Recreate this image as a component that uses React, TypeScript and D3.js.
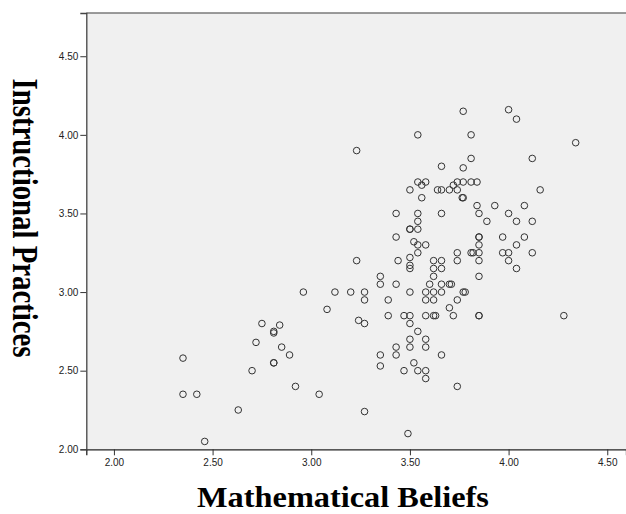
import React, {useEffect, useRef} from 'react';
import * as d3 from 'd3';

// Mathematical Beliefs (x) vs Instructional Practices (y)
const beliefs: number[] = [
  2.35, 2.35, 2.42, 2.46, 2.63, 2.70, 2.72, 2.75, 2.81, 2.81, 2.84, 2.85, 2.81, 2.81, 2.89, 2.92, 2.96, 3.04,
  3.08, 3.12, 3.20, 3.27, 3.27, 3.24, 3.27, 3.23, 3.23, 3.27,
  3.35, 3.35, 3.35, 3.35, 3.39, 3.39,
  3.43, 3.43, 3.43, 3.43, 3.43, 3.44, 3.47, 3.47, 3.49,
  3.50, 3.50, 3.50, 3.50, 3.50, 3.50, 3.50, 3.50, 3.50, 3.50, 3.50,
  3.52, 3.52,
  3.54, 3.54, 3.54, 3.54, 3.54, 3.54, 3.54, 3.54, 3.54,
  3.56, 3.56, 3.58,
  3.58, 3.58, 3.58, 3.58, 3.58, 3.58, 3.58, 3.58,
  3.62, 3.62, 3.62, 3.62, 3.62, 3.62, 3.63, 3.60,
  3.64,
  3.66, 3.66, 3.66, 3.66, 3.66, 3.66, 3.66, 3.66,
  3.70, 3.70, 3.71, 3.70,
  3.72, 3.72,
  3.74, 3.74, 3.74, 3.74, 3.74, 3.74,
  3.77, 3.77, 3.77, 3.77, 3.765, 3.77, 3.78,
  3.81, 3.81, 3.81, 3.81, 3.82,
  3.84, 3.84,
  3.85, 3.85, 3.85, 3.85, 3.85, 3.85, 3.85, 3.85, 3.85,
  3.89, 3.93, 3.97, 3.97,
  4.00, 4.00, 4.00, 4.00,
  4.04, 4.04, 4.04, 4.04,
  4.08, 4.08,
  4.12, 4.12, 4.12,
  4.16, 4.28, 4.34,
];

const practices: number[] = [
  2.58, 2.35, 2.35, 2.05, 2.25, 2.50, 2.68, 2.80, 2.75, 2.74, 2.79, 2.65, 2.55, 2.55, 2.60, 2.40, 3.00, 2.35,
  2.89, 3.00, 3.00, 3.00, 2.95, 2.82, 2.80, 3.90, 3.20, 2.24,
  3.10, 3.05, 2.60, 2.53, 2.95, 2.85,
  3.50, 3.35, 3.05, 2.65, 2.60, 3.20, 2.85, 2.50, 2.10,
  3.65, 3.40, 3.40, 3.22, 3.17, 3.15, 3.00, 2.85, 2.80, 2.70, 2.65,
  3.32, 2.55,
  4.00, 3.70, 3.50, 3.45, 3.40, 3.30, 3.25, 2.75, 2.50,
  3.68, 3.60, 3.70,
  3.30, 3.00, 2.95, 2.85, 2.70, 2.65, 2.50, 2.45,
  3.20, 3.15, 3.10, 3.00, 2.95, 2.85, 2.85, 3.05,
  3.65,
  3.80, 3.65, 3.50, 3.20, 3.15, 3.05, 3.00, 2.60,
  3.65, 3.05, 3.05, 2.90,
  3.68, 2.85,
  3.70, 3.65, 3.25, 3.20, 2.95, 2.40,
  4.15, 3.79, 3.70, 3.60, 3.60, 3.00, 3.00,
  4.00, 3.85, 3.70, 3.25, 3.25,
  3.70, 3.55,
  3.50, 3.35, 3.35, 3.30, 3.25, 3.20, 3.10, 2.85, 2.85,
  3.45, 3.55, 3.35, 3.25,
  4.16, 3.50, 3.25, 3.20,
  4.10, 3.45, 3.30, 3.15,
  3.55, 3.35,
  3.85, 3.45, 3.25,
  3.65, 2.85, 3.95,
];

const xTicks: number[] = [2.0, 2.5, 3.0, 3.5, 4.0, 4.5];
const yTicks: number[] = [2.0, 2.5, 3.0, 3.5, 4.0, 4.5];

const xTitle = "Mathematical Beliefs";
const yTitle = "Instructional Practices";

interface Point {
  x: number
  y: number
}

const App: React.FC = () => {
  const ref = useRef<SVGSVGElement>(null);
  const width = 626;
  const height = 514;

  useEffect(() => {
    document.body.style.margin = '0';
    const svg = d3.select(ref.current);
    svg.selectAll("*").remove();

    const data: Point[] = beliefs.map((b, i) => ({x: b, y: practices[i]}));

    const left = 86.3, right = 626, top = 13, bottom = 449.3;
    const x = d3.scaleLinear([1.86, 4.595], [left, right]);
    const y = d3.scaleLinear([2, 4.775], [bottom, top]);

    // plot background
    svg.append("rect")
    .attr("x", left)
    .attr("y", top)
    .attr("width", right - left)
    .attr("height", bottom - top)
    .attr("fill", "#f0f0f0");

    // top border
    svg.append("line")
    .attr("x1", left).attr("x2", right)
    .attr("y1", top).attr("y2", top)
    .attr("stroke", "#7a7a7a")
    .attr("stroke-width", 1.3);

    const tickFont = "Arial, 'Liberation Sans', sans-serif";

    // x-axis
    svg.append("g")
    .attr("transform", `translate(0,${bottom})`)
    .call(d3.axisBottom(x).tickValues(xTicks).tickFormat(d3.format(".2f")).tickSizeOuter(0).tickSize(6).tickPadding(4))
    .call(g => g.select(".domain").attr("stroke", "#222").attr("stroke-width", 1.3))
    .call(g => g.selectAll(".tick line").attr("stroke", "#333"))
    .call(g => g.selectAll(".tick text").attr("font-family", tickFont).attr("font-size", 10).attr("fill", "#222"));

    // y-axis
    svg.append("g")
    .attr("transform", `translate(${left},0)`)
    .call(d3.axisLeft(y).tickValues(yTicks).tickFormat(d3.format(".2f")).tickSizeOuter(0).tickSize(6).tickPadding(2))
    .call(g => g.select(".domain").attr("stroke", "#444").attr("stroke-width", 1.3))
    .call(g => g.selectAll(".tick line").attr("stroke", "#333"))
    .call(g => g.selectAll(".tick text").attr("font-family", tickFont).attr("font-size", 10).attr("fill", "#222"));

    // points
    svg.append("g")
    .selectAll("circle")
    .data(data)
    .join("circle")
    .attr("cx", d => x(d.x))
    .attr("cy", d => y(d.y))
    .attr("r", 3.3)
    .attr("fill", "none")
    .attr("stroke", "#333")
    .attr("stroke-width", 1);

    // axis titles (the source image is stretched a bit, hence the scale)
    svg.append("text")
    .attr("transform", `translate(343,507) scale(1.078,1)`)
    .attr("text-anchor", "middle")
    .attr("font-family", "'Liberation Serif', 'Times New Roman', serif")
    .attr("font-weight", "bold")
    .attr("font-size", 30)
    .attr("fill", "#000")
    .text(xTitle);

    svg.append("text")
    .attr("transform", `translate(13,218) rotate(90) scale(0.96,1.2)`)
    .attr("text-anchor", "middle")
    .attr("font-family", "'Liberation Serif', 'Times New Roman', serif")
    .attr("font-weight", "bold")
    .attr("font-size", 30)
    .attr("fill", "#000")
    .text(yTitle);
  }, []);

  return <svg ref={ref} width={width} height={height} style={{display: "block", background: "#fff"}}/>;
};

export default App;
